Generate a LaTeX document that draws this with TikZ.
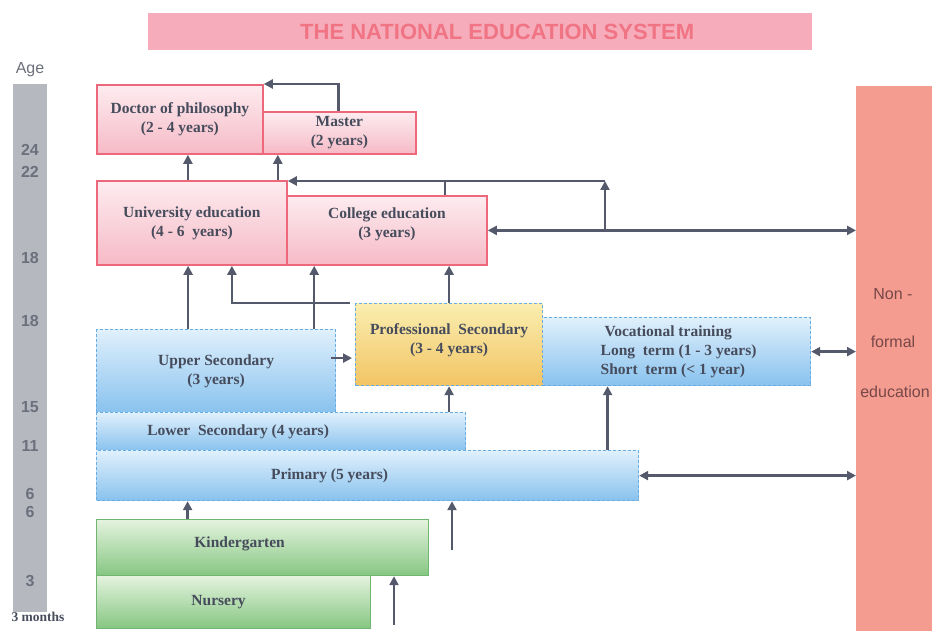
\documentclass[tikz,border=0pt]{standalone}
\usepackage{fontspec}
\setmainfont{Liberation Serif}
\setsansfont{Liberation Sans}
\usetikzlibrary{arrows.meta,positioning}

\definecolor{edline}{RGB}{238,104,124}
\definecolor{pinktop}{RGB}{253,236,240}
\definecolor{pinkbot}{RGB}{246,186,198}
\definecolor{blueline}{RGB}{104,172,226}
\definecolor{bluetop}{RGB}{224,240,252}
\definecolor{bluebot}{RGB}{136,194,238}
\definecolor{yeltop}{RGB}{250,238,176}
\definecolor{yelbot}{RGB}{242,196,100}
\definecolor{greenline}{RGB}{112,182,112}
\definecolor{greentop}{RGB}{228,243,222}
\definecolor{greenbot}{RGB}{134,198,130}
\definecolor{txtgray}{RGB}{70,76,92}
\definecolor{arrgray}{RGB}{84,90,108}
\definecolor{agegray}{RGB}{182,184,192}
\definecolor{agetxt}{RGB}{108,112,124}
\definecolor{titlebar}{RGB}{246,172,186}
\definecolor{titletxt}{RGB}{240,116,132}
\definecolor{nonformal}{RGB}{245,156,144}
\definecolor{nftxt}{RGB}{120,72,72}

\newcommand{\boxfont}{\fontsize{15.5}{19}\selectfont\bfseries}

\begin{document}
\begin{tikzpicture}[x=1pt,y=-1pt,
  box/.style={rectangle,inner sep=0pt,anchor=north west,font=\boxfont,text=txtgray,align=center},
  pinkbox/.style={box,draw=edline,line width=1.8pt,top color=pinktop,bottom color=pinkbot},
  bluebox/.style={box,draw=blueline,densely dashed,line width=1.2pt,top color=bluetop,bottom color=bluebot},
  yelbox/.style={box,draw=blueline,densely dashed,line width=1.2pt,top color=yeltop,bottom color=yelbot},
  greenbox/.style={box,draw=greenline,line width=1.2pt,top color=greentop,bottom color=greenbot},
  txt/.style={font=\boxfont,text=txtgray,inner sep=0pt,align=left},
  agelbl/.style={font=\sffamily\bfseries\fontsize{16}{16}\selectfont,text=agetxt},
  nflbl/.style={font=\sffamily\fontsize{16}{16}\selectfont,text=nftxt},
  arr/.style={draw=arrgray,line width=2.4pt,-{Triangle[length=9pt,width=9pt]}},
  arr2/.style={arr,{Triangle[length=9pt,width=9pt]}-{Triangle[length=9pt,width=9pt]}},
]
\useasboundingbox (0,0) rectangle (932,631);

% title and age scale
\node[box,fill=titlebar,minimum width=664pt,minimum height=37pt] (title) at (148,13) {};
\node[font=\sffamily\bfseries\fontsize{22}{22}\selectfont,text=titletxt] (title-t)
  at ([xshift=17pt]title.center) {THE NATIONAL EDUCATION SYSTEM};
\node[font=\sffamily\fontsize{16}{16}\selectfont,text=agetxt] (age) at (30,70) {Age};
\node[box,fill=agegray,minimum width=34pt,minimum height=528pt] (agebar) at (13,84) {};
\foreach \a/\y in {24/150,22/172,18/258,18/321,15/407,11/446,6/494,6/512,3/581}
  \node[agelbl] (age-\y) at (30,\y) {\a};
\node[font=\bfseries\fontsize{13.5}{13.5}\selectfont,text=txtgray] (age-m) at (38,617) {3 months};

% non-formal education
\node[box,fill=nonformal,minimum width=76pt,minimum height=545pt] (nonformal) at (856,86) {};
\node[nflbl] (nf-1) at (893,294) {Non -};
\node[nflbl] (nf-2) at (893,342) {formal};
\node[nflbl] (nf-3) at (895,392) {education};

% higher education
\node[pinkbox,minimum width=166pt,minimum height=69pt] (phd) at (96,84)
  {Doctor of philosophy\\(2 - 4 years)};
\node[pinkbox,minimum width=153pt,minimum height=42pt] (master) at (262,111)
  {Master\\(2 years)};
\node[pinkbox,minimum width=190pt,minimum height=84pt] (uni) at (96,180)
  {University education\\(4 - 6\ \ years)};
\node[pinkbox,minimum width=200pt,minimum height=69pt] (college) at (286,195) {};
\node[txt,align=center] (college-t) at ([yshift=6pt]college.center) {College education\\(3 years)};

% secondary
\node[bluebox,minimum width=268pt,minimum height=68pt] (voc) at (542,317) {};
\node[txt] (voc-t) at ([xshift=2pt]voc.center)
  {\ Vocational training\\Long\ \ term (1 - 3 years)\\Short\ \ term (< 1 year)};
\node[yelbox,minimum width=187pt,minimum height=82pt] (prof) at (355,303) {};
\node[txt,align=center] (prof-t) at ([yshift=4pt]prof.center) {Professional\ \ Secondary\\(3 - 4 years)};
\node[bluebox,minimum width=239pt,minimum height=83pt] (upsec) at (96,329)
  {Upper Secondary\\(3 years)};
\node[bluebox,minimum width=369pt,minimum height=38pt] (lowsec) at (96,412) {};
\node[txt] (lowsec-t) at ([xshift=-43pt]lowsec.center) {Lower\ \ Secondary (4 years)};
\node[bluebox,minimum width=542pt,minimum height=50pt] (primary) at (96,450) {};
\node[txt] (primary-t) at ([xshift=-38pt]primary.center) {Primary (5 years)};

% pre-school
\node[greenbox,minimum width=332pt,minimum height=56pt] (kinder) at (96,519) {};
\node[txt] (kinder-t) at ([xshift=-23pt,yshift=4pt]kinder.center) {Kindergarten};
\node[greenbox,minimum width=274pt,minimum height=53pt] (nursery) at (96,575) {};
\node[txt] (nursery-t) at ([xshift=-15pt]nursery.center) {Nursery};

% connectors, top part
\draw[arr] ([xshift=-1pt]master.north) |- (phd.north east);
\draw[arr] ([xshift=-4pt]uni.north) -- ([xshift=-4pt]uni.north |- phd.south);
\coordinate (uni-up) at ([xshift=-10pt]uni.north east);
\draw[arr] (uni-up) -- (uni-up |- master.south);
\coordinate (cup) at (605,181);
\draw[arr] (cup |- college.east) -- (cup);
\draw[arr] (cup) -- (cup -| uni.east);
\coordinate (col-up) at ([xshift=58pt]college.north);
\draw[draw=arrgray,line width=2.4pt] (col-up) -- (col-up |- cup);
\draw[arr2] (college.east) -- (college.east -| nonformal.west);

% connectors, into higher education
\coordinate (us-a) at ([xshift=-28pt]upsec.north);
\coordinate (us-b) at ([xshift=-22pt]upsec.north east);
\draw[arr] (us-a) -- (us-a |- uni.south);
\draw[arr] (us-b) -- (us-b |- uni.south);
\draw[arr] ([xshift=-5pt]prof.north west) -| ([xshift=40pt]uni.south);
\draw[arr] (prof.north) -- (prof.north |- college.south);

% connectors, secondary and below
\coordinate (us-out) at ([xshift=-5pt,yshift=13pt]upsec.east);
\draw[arr,shorten >=3pt] (us-out) -- (us-out -| prof.west);
\draw[arr] (prof.south |- lowsec.north) -- (prof.south);
\coordinate (vin) at ([xshift=-69pt]voc.south);
\draw[arr] (vin |- primary.north) -- (vin);
\draw[arr2] (voc.east) -- (voc.east -| nonformal.west);
\draw[arr2] (primary.east) -- (primary.east -| nonformal.west);
\coordinate (kin-up) at ([xshift=-75pt]kinder.north);
\draw[arr] (kin-up) -- (kin-up |- primary.south);
\coordinate (free-a) at (452,550);
\draw[arr] (free-a) -- (free-a |- primary.south);
\coordinate (free-b) at (394,625);
\draw[arr] (free-b) -- (free-b |- kinder.south);
\end{tikzpicture}
\end{document}
